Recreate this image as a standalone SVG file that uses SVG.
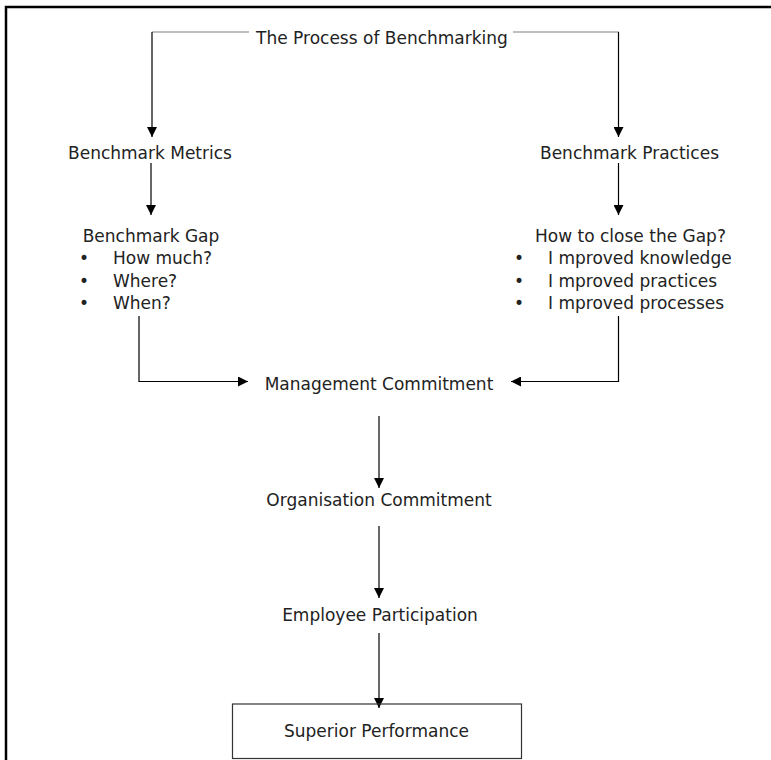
<svg xmlns="http://www.w3.org/2000/svg" width="771" height="760" viewBox="0 0 771 760">
  <style>
    .t { font-family: "DejaVu Sans", "Liberation Sans", sans-serif; font-size: 17px; fill: #222; }
    .c { text-anchor: middle; }
    .ln { fill: none; stroke: #000; stroke-width: 1.2; }
    .gr { fill: none; stroke: #808080; stroke-width: 1.2; }
  </style>
  <defs>
    <marker id="ah" viewBox="0 0 10 10" refX="10" refY="5" markerWidth="10" markerHeight="10" markerUnits="userSpaceOnUse" orient="auto">
      <path d="M0,0 L10,5 L0,10 Z" fill="#000"/>
    </marker>
  </defs>

  <rect width="771" height="760" fill="#fff"/>
  <!-- page frame, open at right and bottom -->
  <rect x="6" y="7" width="800" height="800" fill="none" stroke="#000" stroke-width="2.5"/>

  <g id="connectors">
    <path class="gr" d="M152,32 H249"/>
    <path class="gr" d="M513,32 H619"/>
    <path class="ln" d="M152,32 V137" marker-end="url(#ah)"/>
    <path class="ln" d="M618.5,32 V137" marker-end="url(#ah)"/>
    <path class="ln" d="M151,163 V215" marker-end="url(#ah)"/>
    <path class="ln" d="M618.5,163 V215" marker-end="url(#ah)"/>
    <path class="ln" d="M139,316 V381.5 H248" marker-end="url(#ah)"/>
    <path class="ln" d="M618.5,316 V381.5 H511" marker-end="url(#ah)"/>
    <path class="ln" d="M379,416 V488" marker-end="url(#ah)"/>
    <path class="ln" d="M379,526 V598" marker-end="url(#ah)"/>
    <path class="ln" d="M379,633 V708" marker-end="url(#ah)"/>
  </g>

  <g id="process">
    <text class="t c" x="382" y="44">The Process of Benchmarking</text>
  </g>

  <g id="metrics">
    <text class="t c" x="150" y="159">Benchmark Metrics</text>
  </g>

  <g id="practices">
    <text class="t c" x="629.5" y="159">Benchmark Practices</text>
  </g>

  <g id="gap">
    <text class="t c" x="151" y="242">Benchmark Gap</text>
    <text class="t" x="79" y="264">•</text>
    <text class="t" x="113" y="264">How much?</text>
    <text class="t" x="79" y="286.5">•</text>
    <text class="t" x="113" y="286.5">Where?</text>
    <text class="t" x="79" y="309">•</text>
    <text class="t" x="113" y="309">When?</text>
  </g>

  <g id="close-gap">
    <text class="t c" x="630.5" y="242">How to close the Gap?</text>
    <text class="t" x="514" y="264">•</text>
    <text class="t" x="548" y="264">I mproved knowledge</text>
    <text class="t" x="514" y="286.5">•</text>
    <text class="t" x="548" y="286.5">I mproved practices</text>
    <text class="t" x="514" y="309">•</text>
    <text class="t" x="548" y="309">I mproved processes</text>
  </g>

  <g id="management">
    <text class="t c" x="379" y="390">Management Commitment</text>
  </g>

  <g id="organisation">
    <text class="t c" x="379" y="506">Organisation Commitment</text>
  </g>

  <g id="employee">
    <text class="t c" x="380" y="621">Employee Participation</text>
  </g>

  <g id="superior">
    <rect x="232.5" y="704" width="289" height="54.5" fill="none" stroke="#333" stroke-width="1.2"/>
    <text class="t c" x="376.5" y="737">Superior Performance</text>
  </g>
</svg>
